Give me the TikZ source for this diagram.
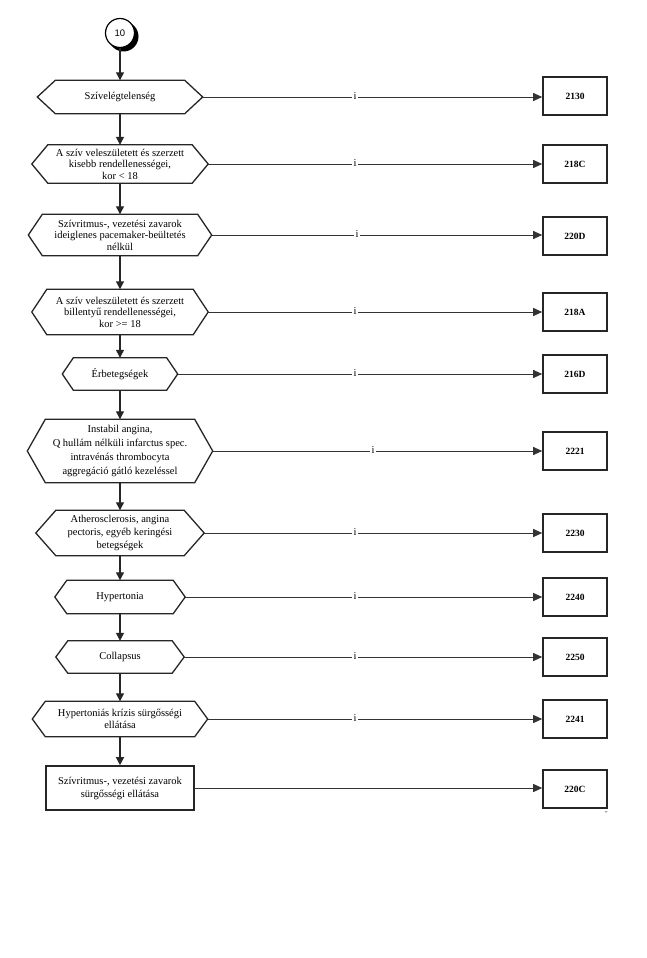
\documentclass[tikz,border=0pt]{standalone}
\usepackage{fontspec}
\setmainfont{Liberation Serif}
\newfontfamily\numfont{Liberation Sans}
\usetikzlibrary{arrows.meta}
\tikzset{
 x=1pt,y=-1pt,
 hexlabel/.style={inner sep=0pt, align=center, font=\fontsize{10.5}{11.6}\selectfont},
 shapeline/.style={draw=black!85, line width=1.3pt, line join=miter},
 codebox/.style={draw=black!85, line width=1.6pt, minimum width=64pt, minimum height=38pt, inner sep=0pt, font=\fontsize{9.5}{11}\selectfont\bfseries},
 flow/.style={draw=black!85, line width=1.2pt, -{Triangle[length=8pt,width=8pt]}},
 link/.style={draw=black!80, line width=0.9pt, -{Triangle[length=9pt,width=8pt]}},
 ilabel/.style={fill=white, inner xsep=1.2pt, inner ysep=0pt, font=\fontsize{10.5}{10.5}\selectfont},
}
\newcommand\hexdraw[2]{\draw[shapeline] (#1.west) -- ([xshift=#2]#1.north west) -- ([xshift=-#2]#1.north east) -- (#1.east) -- ([xshift=-#2]#1.south east) -- ([xshift=#2]#1.south west) -- cycle;}
\begin{document}
\begin{tikzpicture}
\useasboundingbox (0,0) rectangle (647,958);
% start circle
\fill[black] (123.5,36.5) circle (15pt);
\node[circle, draw=black, line width=1.2pt, fill=white, minimum size=29pt, inner sep=0pt, font=\numfont\fontsize{9.5}{9.5}\selectfont] (c10) at (120,33) {10};
% left column
\node[hexlabel, minimum width=165pt, minimum height=33pt] (h1) at (120,97) {Szívelégtelenség};
\hexdraw{h1}{18}
\node[hexlabel, minimum width=176pt, minimum height=38pt] (h2) at (120,164) {A szív veleszületett és szerzett\\kisebb rendellenességei,\\kor < 18};
\hexdraw{h2}{16}
\node[hexlabel, minimum width=183pt, minimum height=41pt] (h3) at (120,235) {Szívritmus-, vezetési zavarok\\ideiglenes pacemaker-beültetés\\nélkül};
\hexdraw{h3}{14}
\node[hexlabel, minimum width=176pt, minimum height=45pt] (h4) at (120,312) {A szív veleszületett és szerzett\\billentyű rendellenességei,\\kor >= 18};
\hexdraw{h4}{15}
\node[hexlabel, minimum width=115pt, minimum height=32pt] (h5) at (120,374) {Érbetegségek};
\hexdraw{h5}{11}
\node[hexlabel, font=\fontsize{10.5}{14}\selectfont, minimum width=185pt, minimum height=63pt] (h6) at (120,451) {Instabil angina,\\Q hullám nélküli infarctus spec.\\intravénás thrombocyta\\aggregáció gátló kezeléssel};
\hexdraw{h6}{18}
\node[hexlabel, font=\fontsize{10.5}{12.8}\selectfont, minimum width=168pt, minimum height=45pt] (h7) at (120,533) {Atherosclerosis, angina\\pectoris, egyéb keringési\\betegségek};
\hexdraw{h7}{20}
\node[hexlabel, minimum width=130pt, minimum height=33pt] (h8) at (120,597) {Hypertonia};
\hexdraw{h8}{12}
\node[hexlabel, minimum width=128pt, minimum height=32pt] (h9) at (120,657) {Collapsus};
\hexdraw{h9}{12}
\node[hexlabel, font=\fontsize{10.5}{12.5}\selectfont, minimum width=175pt, minimum height=35pt] (h10) at (120,719) {Hypertoniás krízis sürgősségi\\ellátása};
\hexdraw{h10}{13}
\node[hexlabel, font=\fontsize{10.5}{13}\selectfont, shapeline, line width=1.6pt, minimum width=148pt, minimum height=44pt] (r11) at (120,788) {Szívritmus-, vezetési zavarok\\sürgősségi ellátása};
% right column
\node[codebox] (b1) at (575,96) {2130};
\node[codebox] (b2) at (575,164) {218C};
\node[codebox] (b3) at (575,236) {220D};
\node[codebox] (b4) at (575,312) {218A};
\node[codebox] (b5) at (575,374) {216D};
\node[codebox] (b6) at (575,451) {2221};
\node[codebox] (b7) at (575,533) {2230};
\node[codebox] (b8) at (575,597) {2240};
\node[codebox] (b9) at (575,657) {2250};
\node[codebox] (b10) at (575,719) {2241};
\node[codebox] (b11) at (575,789) {220C};
\node[font=\fontsize{6}{6}\selectfont\itshape, inner sep=0pt] (mark) at (606,814) {″};
% vertical flow
\draw[flow] (c10) -- (h1.north);
\draw[flow] (h1.south) -- (h2.north);
\draw[flow] (h2.south) -- (h3.north);
\draw[flow] (h3.south) -- (h4.north);
\draw[flow] (h4.south) -- (h5.north);
\draw[flow] (h5.south) -- (h6.north);
\draw[flow] (h6.south) -- (h7.north);
\draw[flow] (h7.south) -- (h8.north);
\draw[flow] (h8.south) -- (h9.north);
\draw[flow] (h9.south) -- (h10.north);
\draw[flow] (h10.south) -- (r11.north);
% horizontal links
\draw[link] (h1.east) -- (h1.east -| b1.west);
\draw[link] (h2.east) -- (b2.west);
\draw[link] (h3.east) -- (h3.east -| b3.west);
\draw[link] (h4.east) -- (b4.west);
\draw[link] (h5.east) -- (b5.west);
\draw[link] (h6.east) -- (b6.west);
\draw[link] (h7.east) -- (b7.west);
\draw[link] (h8.east) -- (b8.west);
\draw[link] (h9.east) -- (b9.west);
\draw[link] (h10.east) -- (b10.west);
\draw[link] (r11.east) -- (r11.east -| b11.west);
% i labels
\node[ilabel] (i1) at (355,96) {i};
\node[ilabel] (i2) at (355,163) {i};
\node[ilabel] (i3) at (357,234) {i};
\node[ilabel] (i4) at (355,311) {i};
\node[ilabel] (i5) at (355,373) {i};
\node[ilabel] (i6) at (373,450) {i};
\node[ilabel] (i7) at (355,532) {i};
\node[ilabel] (i8) at (355,596) {i};
\node[ilabel] (i9) at (355,656) {i};
\node[ilabel] (i10) at (355,718) {i};
\end{tikzpicture}
\end{document}
